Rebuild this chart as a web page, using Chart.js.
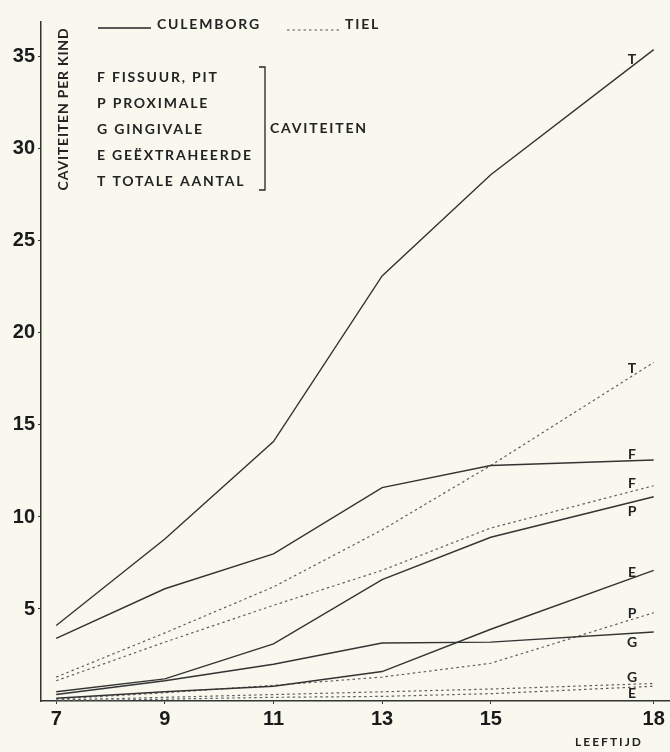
<!DOCTYPE html>
<html>
<head>
<meta charset="utf-8">
<script src="https://cdn.jsdelivr.net/npm/chart.js@4/dist/chart.umd.min.js"></script>
<style>
  html, body { margin: 0; padding: 0; background: #f9f8ef; }
  canvas { display: block; }
</style>
</head>
<body>
<canvas id="chart" width="670" height="752"></canvas>
<script>
// ages on the x axis
const ages = [7, 9, 11, 13, 15, 18];
const xTicks = [7, 9, 11, 13, 15, 18];
const yTicks = [5, 10, 15, 20, 25, 30, 35];

// Culemborg (solid)
const culemborgF = [3.4, 6.1, 8.0, 11.6, 12.8, 13.1];
const culemborgP = [0.5, 1.2, 3.1, 6.6, 8.9, 11.1];
const culemborgG = [0.35, 1.1, 2.0, 3.15, 3.2, 3.75];
const culemborgE = [0.15, 0.5, 0.8, 1.6, 3.9, 7.1];
const culemborgT = [4.1, 8.8, 14.1, 23.1, 28.6, 35.4];

// Tiel (dotted)
const tielF = [1.1, 3.2, 5.2, 7.1, 9.4, 11.7];
const tielP = [0.1, 0.45, 0.85, 1.3, 2.05, 4.8];
const tielG = [0.05, 0.2, 0.35, 0.5, 0.65, 0.95];
const tielE = [0.0, 0.1, 0.2, 0.25, 0.4, 0.8];
const tielT = [1.3, 3.7, 6.2, 9.3, 12.8, 18.4];

const legendItems = ['F FISSUUR, PIT', 'P PROXIMALE', 'G GINGIVALE', 'E GEËXTRAHEERDE', 'T TOTALE AANTAL'];
const cityNames = ['CULEMBORG', 'TIEL'];
const yTitle = 'CAVITEITEN PER KIND';
const bracketText = 'CAVITEITEN';
const xTitle = 'LEEFTIJD';

const ink = '#232323';
const textFont = 'bold 14px Lato, "Open Sans", sans-serif';

function toPoints(vals) {
  return ages.map((a, i) => ({ x: a, y: vals[i] }));
}

function solid(letter, vals, dy) {
  return { label: 'Culemborg ' + letter, letter, labelDy: dy, data: toPoints(vals),
    borderColor: '#333', borderWidth: 1.4, pointRadius: 0, tension: 0 };
}
function dotted(letter, vals, dy) {
  return { label: 'Tiel ' + letter, letter, labelDy: dy, data: toPoints(vals),
    borderColor: '#5e5e5e', borderWidth: 1.2, borderDash: [2.5, 3], pointRadius: 0, tension: 0 };
}

const datasets = [
  solid('T', culemborgT, -7),
  solid('F', culemborgF, -6),
  solid('P', culemborgP, 9),
  solid('G', culemborgG, 9),
  solid('E', culemborgE, -6),
  dotted('T', tielT, -8),
  dotted('F', tielF, -8),
  dotted('P', tielP, -6),
  dotted('G', tielG, -7),
  dotted('E', tielE, 6),
];

function valueAt(data, x) {
  for (let i = 1; i < data.length; i++) {
    if (x <= data[i].x) {
      const a = data[i - 1], b = data[i];
      return a.y + (b.y - a.y) * (x - a.x) / (b.x - a.x);
    }
  }
  return data[data.length - 1].y;
}

// background, letters at line ends, legend and titles
const decor = {
  id: 'decor',
  beforeDraw(chart) {
    const c = chart.ctx;
    c.save();
    c.fillStyle = '#f9f8ef';
    c.fillRect(0, 0, chart.width, chart.height);
    c.restore();
  },
  afterDraw(chart) {
    const c = chart.ctx;
    const xs = chart.scales.x, ys = chart.scales.y;
    c.save();
    c.fillStyle = ink;
    c.strokeStyle = ink;

    // letters near right end of every line
    c.font = 'bold 14px Lato, sans-serif';
    c.textAlign = 'center';
    c.textBaseline = 'middle';
    const lx = 17.6;
    chart.data.datasets.forEach(ds => {
      const px = xs.getPixelForValue(lx);
      const py = ys.getPixelForValue(valueAt(ds.data, lx));
      c.fillText(ds.letter, px, py + ds.labelDy);
    });

    // city legend
    c.font = textFont;
    c.letterSpacing = '1.8px';
    c.textAlign = 'left';
    c.lineWidth = 1.4;
    c.beginPath(); c.moveTo(98, 28); c.lineTo(151, 28); c.stroke();
    c.fillText(cityNames[0], 157, 24);
    c.lineWidth = 1.2;
    c.setLineDash([2.5, 3]);
    c.strokeStyle = '#555';
    c.beginPath(); c.moveTo(287, 30); c.lineTo(341, 30); c.stroke();
    c.setLineDash([]);
    c.strokeStyle = ink;
    c.fillText(cityNames[1], 345, 24);

    // cavity types with bracket
    legendItems.forEach((t, i) => c.fillText(t, 97, 77 + i * 26));
    c.lineWidth = 1.3;
    c.beginPath();
    c.moveTo(259, 67); c.lineTo(265, 67); c.lineTo(265, 190); c.lineTo(259, 190);
    c.stroke();
    c.fillText(bracketText, 270, 128);

    // y title, rotated, inside plot
    c.save();
    c.letterSpacing = '0.8px';
    c.translate(63, 109);
    c.rotate(-Math.PI / 2);
    c.textAlign = 'center';
    c.fillText(yTitle, 0, 0);
    c.restore();

    // x title
    c.font = 'bold 12px Lato, sans-serif';
    c.letterSpacing = '2px';
    c.textAlign = 'center';
    c.fillText(xTitle, 609, 742);
    c.restore();
  }
};

new Chart(document.getElementById('chart'), {
  type: 'line',
  data: { datasets },
  options: {
    responsive: false,
    animation: false,
    layout: { padding: { top: 22, right: 0, left: 0, bottom: 0 } },
    plugins: { legend: { display: false }, tooltip: { enabled: false } },
    scales: {
      x: {
        type: 'linear',
        min: 6.72,
        max: 18.3,
        afterBuildTicks: s => { s.ticks = xTicks.map(v => ({ value: v })); },
        afterFit: s => { s.height = 51; },
        grid: { display: true, drawOnChartArea: false, drawTicks: true, tickLength: 3, color: '#333' },
        border: { display: true, color: '#333', width: 1.5 },
        ticks: { color: '#1a1a1a', padding: 3, maxRotation: 0, autoSkip: false,
          font: { family: '"Liberation Sans", Arial, sans-serif', size: 20, weight: 'bold' } }
      },
      y: {
        min: 0,
        max: 36.9,
        afterBuildTicks: s => { s.ticks = yTicks.map(v => ({ value: v })); },
        afterFit: s => { s.width = 41; },
        grid: { display: true, drawOnChartArea: false, drawTicks: true, tickLength: 3, color: '#333' },
        border: { display: true, color: '#333', width: 1.5 },
        ticks: { color: '#1a1a1a', padding: 3, autoSkip: false,
          font: { family: '"Liberation Sans", Arial, sans-serif', size: 20, weight: 'bold' } }
      }
    }
  },
  plugins: [decor]
});
</script>
</body>
</html>
